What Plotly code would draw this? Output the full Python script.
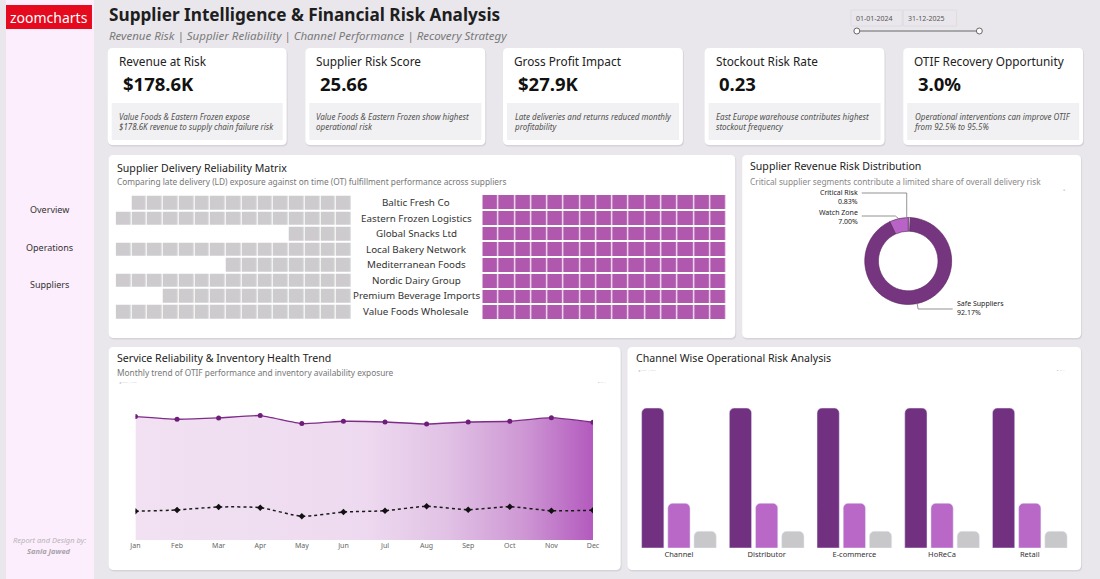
import plotly.graph_objects as go

W, H = 1100, 579

# ---------------- data ----------------
suppliers = ["Baltic Fresh Co", "Eastern Frozen Logistics", "Global Snacks Ltd",
             "Local Bakery Network", "Mediterranean Foods", "Nordic Dairy Group",
             "Premium Beverage Imports", "Value Foods Wholesale"]
ld_cells = [14, 15, 4, 15, 8, 15, 12, 15]      # late delivery exposure cells
ot_cells = [15, 15, 15, 15, 15, 15, 15, 15]    # on-time fulfilment cells
grid_cols = 15

risk_labels = ["Critical Risk", "Watch Zone", "Safe Suppliers"]
risk_share = [0.83, 7.00, 92.17]

months = ["Jan", "Feb", "Mar", "Apr", "May", "Jun", "Jul", "Aug", "Sep", "Oct", "Nov", "Dec"]
otif_pct = [95.3, 93.3, 94.3, 96.1, 89.9, 91.7, 91.2, 89.6, 91.2, 91.7, 94.5, 91.0]
stockout_pct = [22.2, 23.2, 25.5, 25.0, 18.3, 21.6, 22.6, 26.0, 23.4, 25.7, 22.6, 23.0]

channels = ["Channel", "Distributor", "E-commerce", "HoReCa", "Retail"]
revenue_idx = [100, 100, 100, 100, 100]
late_idx = [32, 32, 32, 32, 32]
returns_idx = [12, 12, 12, 12, 12]

kpi_titles = ["Revenue at Risk", "Supplier Risk Score", "Gross Profit Impact",
              "Stockout Risk Rate", "OTIF Recovery Opportunity"]
kpi_values = ["$178.6K", "25.66", "$27.9K", "0.23", "3.0%"]
kpi_notes = [
    "Value Foods & Eastern Frozen expose<br>$178.6K revenue to supply chain failure risk",
    "Value Foods & Eastern Frozen show highest<br>operational risk",
    "Late deliveries and returns reduced monthly<br>profitability",
    "East Europe warehouse contributes highest<br>stockout frequency",
    "Operational interventions can improve OTIF<br>from 92.5% to 95.5%",
]

FONT = "Noto Sans"

def X(px):
    return px / W

def Y(py):
    return 1 - py / H

shapes = []
annotations = []

def rrect(x0, y0, x1, y1, fill, r=4):
    rx, ry = r / W, r / H
    a0, a1, b0, b1 = X(x0), X(x1), Y(y0), Y(y1)
    p = (f"M {a0+rx},{b0} L {a1-rx},{b0} Q {a1},{b0} {a1},{b0-ry} "
         f"L {a1},{b1+ry} Q {a1},{b1} {a1-rx},{b1} L {a0+rx},{b1} "
         f"Q {a0},{b1} {a0},{b1+ry} L {a0},{b0-ry} Q {a0},{b0} {a0+rx},{b0} Z")
    shapes.append(dict(type="path", xref="paper", yref="paper", path=p,
                       fillcolor=fill, line=dict(width=0), layer="below"))

def card(x0, y0, x1, y1):
    rrect(x0 + 0.5, y0 + 1, x1 + 1, y1 + 1.5, "#D6D3DA", r=5)
    rrect(x0, y0, x1, y1, "#FFFFFF", r=5)

def text(x, y, s, size=10, color="#222", bold=False, italic=False, xanchor="left",
         family=FONT, align="left"):
    if bold:
        s = f"<b>{s}</b>"
    if italic:
        s = f"<i>{s}</i>"
    annotations.append(dict(x=X(x), y=Y(y), xref="paper", yref="paper", text=s,
                            showarrow=False, xanchor=xanchor, yanchor="middle",
                            align=align, font=dict(size=size, color=color, family=family)))

def hline(x0, y0, x1, y1, color="#888", width=1):
    shapes.append(dict(type="line", xref="paper", yref="paper", x0=X(x0), y0=Y(y0),
                       x1=X(x1), y1=Y(y1), line=dict(color=color, width=width)))

# ---------------- background / sidebar ----------------
shapes.append(dict(type="rect", xref="paper", yref="paper", x0=0, x1=X(89), y0=0, y1=1,
                   fillcolor="#FCEEFC", line=dict(width=0), layer="below"))
shapes.append(dict(type="rect", xref="paper", yref="paper", x0=0, x1=X(87), y0=Y(29), y1=Y(5),
                   fillcolor="#E50A1E", line=dict(width=0), layer="below"))
text(43.5, 17, "zoomcharts", size=14, color="#FFFFFF", xanchor="center")
text(44, 210, "Overview", size=9, color="#333", xanchor="center")
text(44, 247, "Operations", size=9, color="#333", xanchor="center")
text(44, 284, "Suppliers", size=9, color="#333", xanchor="center")
text(44, 540, "Report and Design by:", size=7.5, color="#B9B4BB", italic=True, xanchor="center")
text(44, 551, "Sania Jawed", size=7.5, color="#A9A4AB", italic=True, bold=True, xanchor="center")

# ---------------- header ----------------
text(102, 15, "Supplier Intelligence & Financial Risk Analysis", size=17.2, color="#1E1E1E", bold=True)
text(102, 35, "Revenue Risk | Supplier Reliability | Channel Performance | Recovery Strategy",
     size=11.5, color="#7A7A7A", italic=True)

# date slicer
text(858, 18, "01-01-2024", size=7, color="#555")
text(911, 18, "31-12-2025", size=7, color="#555")
shapes.append(dict(type="rect", xref="paper", yref="paper", x0=X(855), x1=X(907), y0=Y(26), y1=Y(10),
                   fillcolor="rgba(0,0,0,0)", line=dict(color="#DEDCE1", width=1)))
shapes.append(dict(type="rect", xref="paper", yref="paper", x0=X(908), x1=X(962), y0=Y(26), y1=Y(10),
                   fillcolor="rgba(0,0,0,0)", line=dict(color="#DEDCE1", width=1)))
hline(861, 31, 985, 31, color="#666", width=1)
for cx in (861, 985):
    shapes.append(dict(type="circle", xref="paper", yref="paper", x0=X(cx - 3), x1=X(cx + 3),
                       y0=Y(34), y1=Y(28), fillcolor="#FFFFFF", line=dict(color="#666", width=1)))

# ---------------- KPI cards ----------------
card_x = [(103, 284), (303, 485), (503, 685), (707, 889), (908, 1090)]
for (x0, x1), t, v, n in zip(card_x, kpi_titles, kpi_values, kpi_notes):
    card(x0, 48, x1, 145)
    text(x0 + 9, 61, t, size=11.8, color="#222")
    text(x0 + 13, 83, v, size=18.5, color="#111", bold=True)
    shapes.append(dict(type="rect", xref="paper", yref="paper", x0=X(x0 + 4), x1=X(x1 - 4),
                       y0=Y(140), y1=Y(103), fillcolor="#F1F0F2", line=dict(width=0), layer="below"))
    text(x0 + 9, 121, n, size=8, color="#505050", italic=True)

# ---------------- panels ----------------
card(104, 155, 738, 338)
card(745, 155, 1088, 338)
card(104, 347, 622, 570)
card(629, 347, 1088, 570)

text(110, 168, "Supplier Delivery Reliability Matrix", size=10.6, color="#222")
text(110, 182, "Comparing late delivery (LD) exposure against on time (OT) fulfillment performance across suppliers",
     size=8.3, color="#777")
text(751, 166, "Supplier Revenue Risk Distribution", size=10.6, color="#222")
text(751, 181, "Critical supplier segments contribute a limited share of overall delivery risk",
     size=8.3, color="#888")
text(110, 358, "Service Reliability & Inventory Health Trend", size=10.6, color="#222")
text(110, 372, "Monthly trend of OTIF performance and inventory availability exposure",
     size=8.3, color="#777")
text(636, 358, "Channel Wise Operational Risk Analysis", size=10.6, color="#222")

# tiny toolbar glyphs
for (x, y, s) in [(112, 383, "◂ ── ◦ ──"), (597, 383, "▪ ─ ◦"), (638, 370, "◂ ── ◦ ──"), (1062, 370, "▪ ─ ◦")]:
    text(x, y, s, size=4, color="#C4C0C6")
text(1068, 190, "▪", size=6, color="#CFCBD1")

# ---------------- waffle matrix ----------------
fig = go.Figure()

def waffle_z(counts, right_align):
    z = []
    for n in counts:
        row = []
        for j in range(grid_cols):
            on = (j >= grid_cols - n) if right_align else (j < n)
            row.append(1 if on else None)
        z.append(row)
    return z

cols = list(range(grid_cols))
fig.add_trace(go.Heatmap(z=waffle_z(ld_cells, True), x=cols, y=suppliers,
                         colorscale=[[0, "#CDCBCE"], [1, "#CDCBCE"]], showscale=False,
                         xgap=1.2, ygap=2, hoverinfo="skip", xaxis="x2", yaxis="y2"))
fig.add_trace(go.Heatmap(z=waffle_z(ot_cells, False), x=cols, y=suppliers,
                         colorscale=[[0, "#AF58AE"], [1, "#AF58AE"]], showscale=False,
                         xgap=1.2, ygap=2, hoverinfo="skip", xaxis="x3", yaxis="y3"))
for s in suppliers:
    annotations.append(dict(x=X(415), y=s, xref="paper", yref="y2", text=s, showarrow=False,
                            xanchor="center", yanchor="middle",
                            font=dict(size=9.8, color="#333", family=FONT)))

# ---------------- donut ----------------
fig.add_trace(go.Pie(labels=risk_labels, values=risk_share, hole=0.685, sort=False,
                     direction="counterclockwise", rotation=0,
                     marker=dict(colors=["#C9C7CA", "#B864C6", "#76357F"],
                                 line=dict(color="#5A2462", width=0.6)),
                     textinfo="none", hoverinfo="skip",
                     domain=dict(x=[X(869), X(957)], y=[Y(305), Y(217)])))
lbl = "#222"
text(864, 197, "Critical Risk<br>0.83%", size=7, color=lbl, xanchor="right", align="right")
text(864, 217, "Watch Zone<br>7.00%", size=7, color=lbl, xanchor="right", align="right")
text(960, 308, "Safe Suppliers<br>92.17%", size=7, color=lbl, xanchor="left")
for seg in [((866, 193), (911.5, 193), (911.5, 217)),
            ((866, 216), (900, 216), (905, 220)),
            ((922, 303), (923, 309), (958, 309))]:
    for a, b in zip(seg[:-1], seg[1:]):
        hline(a[0], a[1], b[0], b[1], color="#777", width=0.8)

# ---------------- trend ----------------
mi = list(range(len(months)))
fig.add_trace(go.Scatter(x=mi, y=otif_pct, mode="lines+markers", fill="tozeroy",
                         fillgradient=dict(type="horizontal",
                                           colorscale=[[0, "#F1E1F2"], [0.5, "#EEDAF0"],
                                                       [0.68, "#E1C2E5"], [0.85, "#CE97D4"],
                                                       [1, "#B35ABE"]]),
                         line=dict(color="#7E2C88", width=1.4, shape="spline", smoothing=0.4),
                         marker=dict(color="#6E1E7A", size=5), hoverinfo="skip",
                         xaxis="x4", yaxis="y4"))
fig.add_trace(go.Scatter(x=mi, y=stockout_pct, mode="lines+markers",
                         line=dict(color="#1A1A1A", width=1.5, dash="dot", shape="spline", smoothing=0.6),
                         marker=dict(color="#111", size=5, symbol="diamond"), hoverinfo="skip",
                         xaxis="x4", yaxis="y4"))

# ---------------- channel bars ----------------
fig.add_trace(go.Bar(x=channels, y=revenue_idx, marker=dict(color="#713180"),
                     hoverinfo="skip", xaxis="x5", yaxis="y5"))
fig.add_trace(go.Bar(x=channels, y=late_idx, marker=dict(color="#B968C7"),
                     hoverinfo="skip", xaxis="x5", yaxis="y5"))
fig.add_trace(go.Bar(x=channels, y=returns_idx, marker=dict(color="#C8C7CA"),
                     hoverinfo="skip", xaxis="x5", yaxis="y5"))

hidden = dict(showgrid=False, zeroline=False, showticklabels=False, showline=False, ticks="")

fig.update_layout(
    width=W, height=H, margin=dict(l=0, r=0, t=0, b=0), autosize=False,
    paper_bgcolor="#E9E7EC", plot_bgcolor="rgba(0,0,0,0)",
    showlegend=False, font=dict(family=FONT),
    shapes=shapes, annotations=annotations,
    barmode="group", bargap=0.104, bargroupgap=0.15, barcornerradius=5,
    xaxis=dict(visible=False, domain=[0, 0.01]), yaxis=dict(visible=False, domain=[0, 0.01]),
    xaxis2=dict(domain=[X(111), X(350)], range=[-0.5, grid_cols - 0.5], anchor="y2", **hidden),
    yaxis2=dict(domain=[Y(320), Y(194)], autorange="reversed", anchor="x2", **hidden),
    xaxis3=dict(domain=[X(482), X(729)], range=[-0.5, grid_cols - 0.5], anchor="y3", **hidden),
    yaxis3=dict(domain=[Y(320), Y(194)], autorange="reversed", anchor="x3", **hidden),
    xaxis4=dict(domain=[X(131), X(594)], range=[0, 11], anchor="y4", showgrid=False,
                zeroline=False, showline=False, tickmode="array", tickvals=mi, ticktext=months,
                tickfont=dict(size=7, color="#666"), ticks=""),
    yaxis4=dict(domain=[Y(540), Y(395)], range=[0, 112], anchor="x4", **hidden),
    xaxis5=dict(domain=[X(636.6), X(1080.4)], anchor="y5", showgrid=False, zeroline=False,
                showline=False, ticks="", tickfont=dict(size=7.5, color="#333")),
    yaxis5=dict(domain=[Y(548), Y(390)], range=[0, 112.9], anchor="x5", **hidden),
)

fig.write_html("out.html", config={"displayModeBar": False})
